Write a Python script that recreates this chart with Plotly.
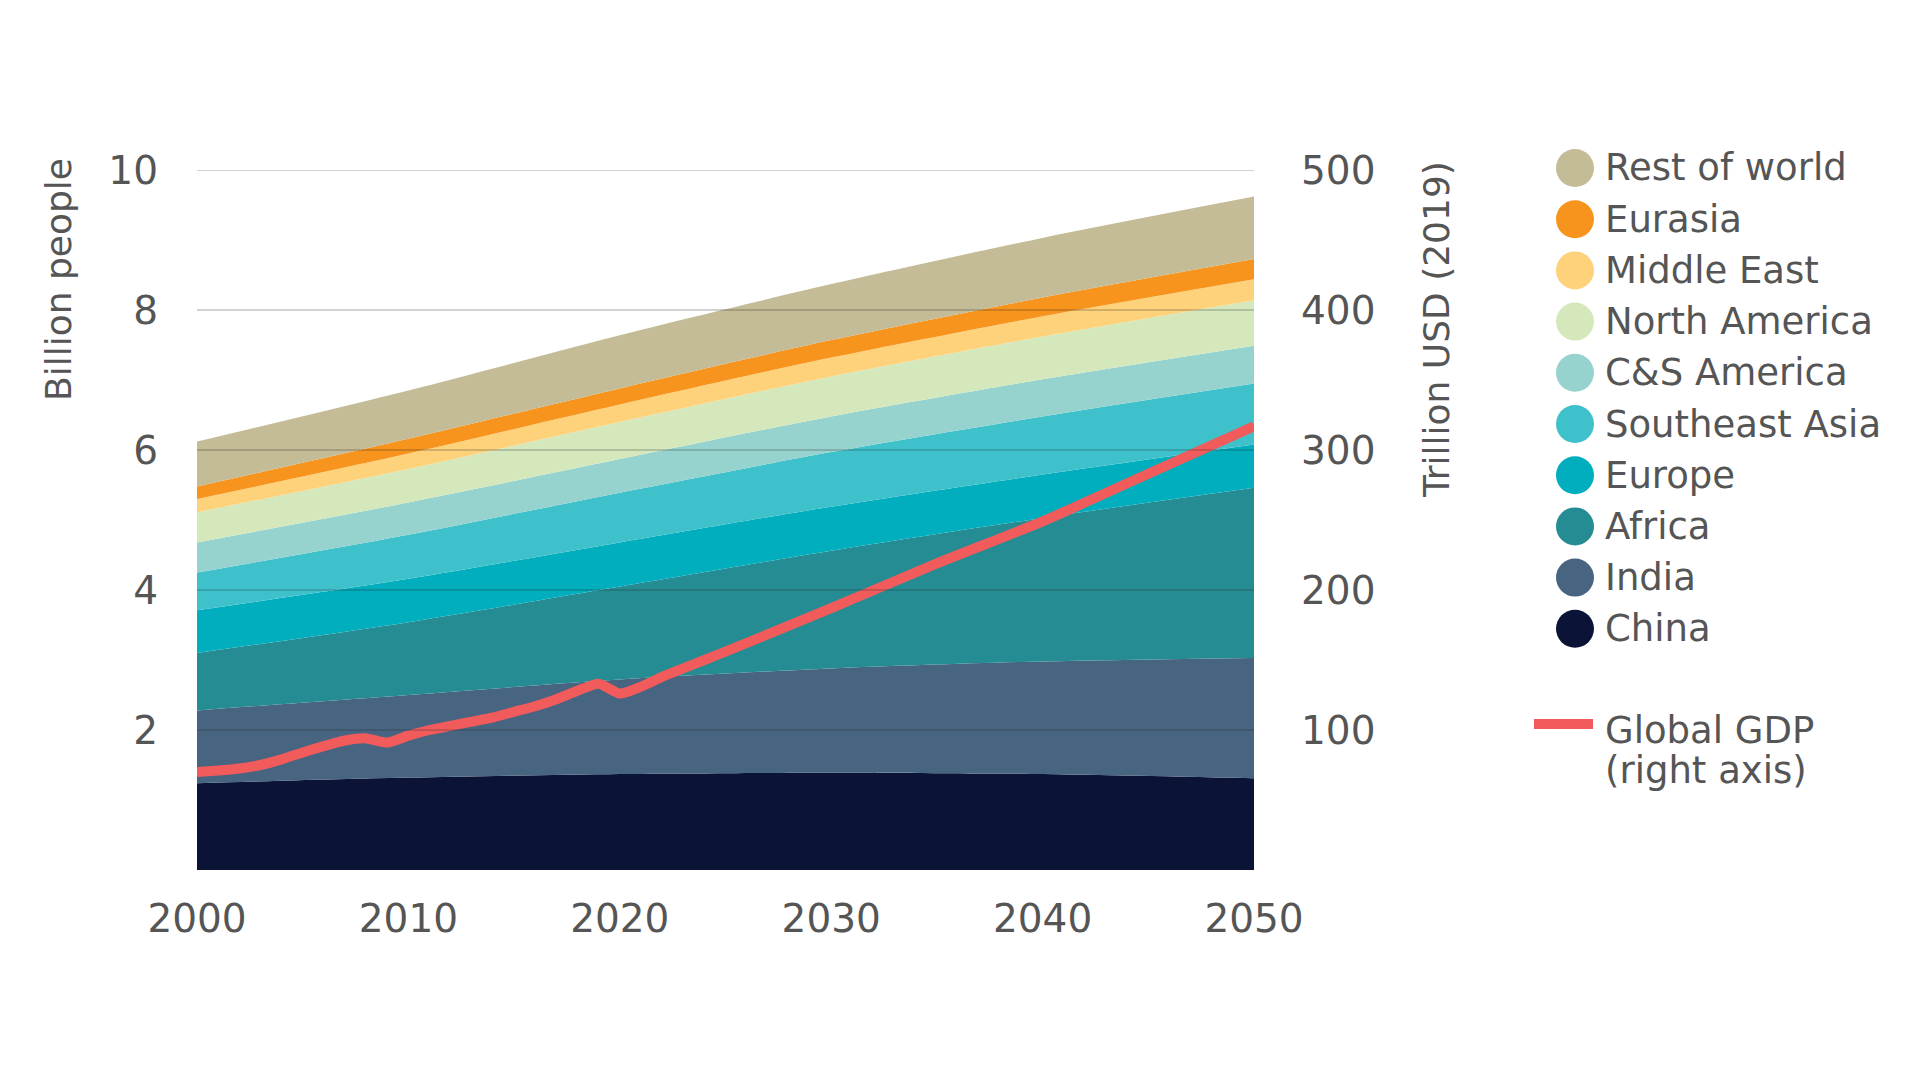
import plotly.graph_objects as go

# ---------------- data ----------------
years = [2000, 2010, 2020, 2030, 2040, 2050]
china = [1.24, 1.32, 1.37, 1.39, 1.37, 1.31]
india = [1.04, 1.18, 1.35, 1.49, 1.61, 1.72]
africa = [0.82, 1.04, 1.33, 1.68, 2.05, 2.43]
europe = [0.61, 0.62, 0.63, 0.63, 0.62, 0.62]
se_asia = [0.54, 0.63, 0.71, 0.78, 0.83, 0.87]
cs_america = [0.43, 0.46, 0.48, 0.51, 0.53, 0.54]
north_america = [0.43, 0.48, 0.53, 0.57, 0.61, 0.65]
middle_east = [0.19, 0.22, 0.25, 0.27, 0.29, 0.30]
eurasia = [0.18, 0.21, 0.23, 0.25, 0.27, 0.29]
rest_of_world = [0.64, 0.69, 0.76, 0.80, 0.85, 0.89]

gdp_years = [2000, 2001, 2002, 2003, 2004, 2005, 2006, 2007, 2008, 2009,
             2010, 2011, 2012, 2013, 2014, 2015, 2016, 2017, 2018, 2019,
             2020, 2021, 2022, 2023, 2024, 2025, 2030, 2035, 2040, 2045, 2050]
gdp = [70, 71, 72.5, 75, 79, 84, 88.5, 92.5, 94, 91,
       96, 100, 103, 106, 109, 113, 117, 122, 128, 133,
       126, 131, 138, 144, 150, 156, 187, 219, 249, 283, 317]

series_names = ["China", "India", "Africa", "Europe", "Southeast Asia",
                "C&S America", "North America", "Middle East", "Eurasia",
                "Rest of world"]
series_values = [china, india, africa, europe, se_asia, cs_america,
                 north_america, middle_east, eurasia, rest_of_world]
gdp_label_lines = ["Global GDP", "(right axis)"]

left_ticks = [2, 4, 6, 8, 10]
right_ticks = [100, 200, 300, 400, 500]
x_ticks = [2000, 2010, 2020, 2030, 2040, 2050]

# ---------------- styles ----------------
colors = {
    "China": "#0B1437",
    "India": "#476480",
    "Africa": "#268C93",
    "Europe": "#00AEBD",
    "Southeast Asia": "#3FC1CC",
    "C&S America": "#96D3CE",
    "North America": "#D5E8BC",
    "Middle East": "#FDD27A",
    "Eurasia": "#F7941D",
    "Rest of world": "#C4BC96",
}
gdp_color = "#F15B5B"
text_color = "#555555"
FONT = "DejaVu Sans"

W, H = 1920, 1080
L, R, T, B = 197, 1254, 170, 870  # plot area in pixels


def px_x(px):
    return (px - L) / (R - L)


def px_y(py):
    return (B - py) / (B - T)


fig = go.Figure()

# GDP line on secondary axis (drawn above areas)
fig.add_trace(go.Scatter(
    x=gdp_years, y=gdp, mode="lines", yaxis="y2",
    line=dict(color=gdp_color, width=10, shape="spline", smoothing=0.6),
    showlegend=False, hoverinfo="skip"))

for name, vals in zip(series_names, series_values):
    fig.add_trace(go.Scatter(
        x=years, y=vals, stackgroup="pop", mode="lines",
        line=dict(width=0, shape="spline", smoothing=0.8),
        fillcolor=colors[name], name=name, showlegend=False,
        hoverinfo="skip"))

shapes = []
annotations = []

# gridlines above the areas
for t in left_ticks:
    shapes.append(dict(type="line", xref="paper", yref="y", x0=0, x1=1,
                       y0=t, y1=t, layer="above",
                       line=dict(color="rgba(40,40,40,0.28)", width=1.5)))

# custom legend
legend_order = list(reversed(series_names))
row0, row_gap = 168, 51.2
for i, name in enumerate(legend_order):
    cy = row0 + i * row_gap
    shapes.append(dict(type="circle", xref="paper", yref="paper",
                       xsizemode="pixel", ysizemode="pixel",
                       xanchor=px_x(1575), yanchor=px_y(cy),
                       x0=-19, x1=19, y0=-19, y1=19,
                       fillcolor=colors[name], line=dict(width=0)))
    annotations.append(dict(text=name, xref="paper", yref="paper",
                            x=px_x(1603), y=px_y(cy), xanchor="left",
                            yanchor="middle", showarrow=False,
                            font=dict(family=FONT, size=37, color=text_color)))

shapes.append(dict(type="line", xref="paper", yref="paper",
                   x0=px_x(1534), x1=px_x(1593), y0=px_y(724), y1=px_y(724),
                   line=dict(color=gdp_color, width=10)))
for j, line_text in enumerate(gdp_label_lines):
    annotations.append(dict(text=line_text, xref="paper", yref="paper",
                            x=px_x(1603), y=px_y(730 + j * 40),
                            xanchor="left", yanchor="middle", align="left",
                            showarrow=False,
                            font=dict(family=FONT, size=37, color=text_color)))

# axis titles
annotations.append(dict(text="Billion people", xref="paper", yref="paper",
                        x=px_x(58), y=px_y(280), textangle=-90,
                        xanchor="center", yanchor="middle", showarrow=False,
                        font=dict(family=FONT, size=36, color=text_color)))
annotations.append(dict(text="Trillion USD (2019)", xref="paper",
                        yref="paper", x=px_x(1436), y=px_y(330),
                        textangle=-90, xanchor="center", yanchor="middle",
                        showarrow=False,
                        font=dict(family=FONT, size=36, color=text_color)))

fig.update_layout(
    width=W, height=H,
    margin=dict(l=L, r=W - R, t=T, b=H - B, pad=0),
    paper_bgcolor="white", plot_bgcolor="white",
    showlegend=False,
    font=dict(family=FONT, color=text_color),
    xaxis=dict(range=[2000, 2050], tickvals=x_ticks,
               ticktext=[str(v) for v in x_ticks], showgrid=False,
               zeroline=False, showline=False, ticks="",
               ticklabelstandoff=22,
               tickfont=dict(family=FONT, size=39, color=text_color)),
    yaxis=dict(range=[0, 10], tickvals=left_ticks, showgrid=False,
               zeroline=False, showline=False, ticks="",
               ticklabelstandoff=38,
               tickfont=dict(family=FONT, size=39, color=text_color)),
    yaxis2=dict(range=[0, 500], tickvals=right_ticks, overlaying="y",
                side="right", showgrid=False, zeroline=False,
                showline=False, ticks="", ticklabelstandoff=46,
                tickfont=dict(family=FONT, size=39, color=text_color)),
    shapes=shapes,
    annotations=annotations,
)

fig.write_html("out.html")
